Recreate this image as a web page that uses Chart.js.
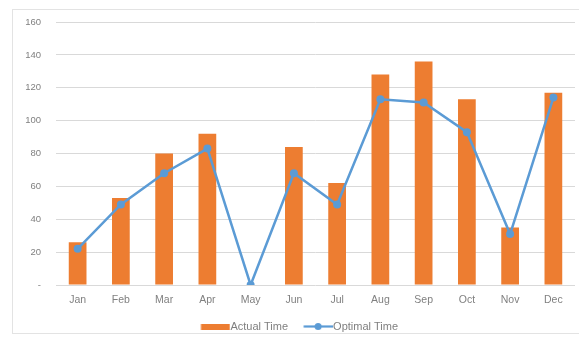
<!DOCTYPE html>
<html>
<head>
<meta charset="utf-8">
<script src="https://cdn.jsdelivr.net/npm/chart.js@4"></script>
<style>
  html, body { margin: 0; padding: 0; background: #fff; }
  #wrap { position: relative; width: 579px; height: 342px; }
  #frame { position: absolute; left: 12px; top: 9px; width: 580px; height: 325px; border: 1px solid #e3e3e3; box-sizing: border-box; }
  #myChart { position: absolute; left: 0; top: 0; }
</style>
</head>
<body>
<div id="wrap">
  <div id="frame"></div>
  <canvas id="myChart" width="579" height="342"></canvas>
</div>
<script>
// monthly values
const months = ['Jan', 'Feb', 'Mar', 'Apr', 'May', 'Jun', 'Jul', 'Aug', 'Sep', 'Oct', 'Nov', 'Dec']
const actualTime = [26, 53, 80, 92, 0, 84, 62, 128, 136, 113, 35, 117]
const optimalTime = [22, 49, 68, 83, 0, 68, 49, 113, 111, 93, 31, 114]
const yTicks = [0, 20, 40, 60, 80, 100, 120, 140, 160]

const orange = '#ED7D31'
const blue = '#5B9BD5'
const textGray = '#808080'

// legend icons, Excel style: the canvas is wider than the legend box and the
// drawing sits in its right part, so the icon butts up against the label text
const ICON_W = 35
function barIcon(){
    const c = document.createElement('canvas')
    c.width = ICON_W; c.height = 6
    const g = c.getContext('2d')
    g.fillStyle = orange
    g.fillRect(5.5, 0, 29, 6)
    return c
}
function lineIcon(){
    const c = document.createElement('canvas')
    c.width = ICON_W; c.height = 9
    const g = c.getContext('2d')
    g.strokeStyle = blue
    g.lineWidth = 2.2
    g.beginPath(); g.moveTo(5.5, 4.5); g.lineTo(35, 4.5); g.stroke()
    g.fillStyle = blue
    g.beginPath(); g.arc(20, 4.5, 3.5, 0, Math.PI * 2); g.fill()
    return c
}

const ctx = document.getElementById('myChart')
const myChart = new Chart(ctx, {
    data: {
        labels: months,
        datasets: [{
            type: 'line',
            label: 'Optimal Time',
            data: optimalTime,
            borderColor: blue,
            backgroundColor: blue,
            borderWidth: 2.5,
            pointRadius: 4,
            pointBackgroundColor: blue,
            pointBorderWidth: 0,
            tension: 0,
            order: 0
        },
        {
            type: 'bar',
            label: 'Actual Time',
            data: actualTime,
            backgroundColor: orange,
            barPercentage: 0.41,
            categoryPercentage: 1,
            order: 1
        }]
    },
    options: {
        responsive: false,
        animation: false,
        // left padding pushes the centred legend right; the y axis width makes up the rest
        layout: { padding: { top: 22, right: 4, left: 24, bottom: 0 } },
        scales: {
            x: {
                afterFit: s => { s.height = 26 },
                grid: { display: false, drawTicks: false },
                border: { display: false },
                ticks: { color: textGray, font: { family: 'Liberation Sans', size: 10.5 }, padding: 9 }
            },
            y: {
                min: 0,
                max: 160,
                afterFit: s => { s.width = 32 },
                afterBuildTicks: s => { s.ticks = yTicks.map(v => ({ value: v })) },
                grid: { color: '#d9d9d9', drawTicks: false },
                border: { display: false },
                ticks: {
                    color: textGray,
                    font: { family: 'Liberation Sans', size: 9.5 },
                    padding: 15,
                    callback: v => v === 0 ? '-' : v
                }
            }
        },
        plugins: {
            tooltip: { enabled: false },
            legend: {
                position: 'bottom',
                reverse: true,
                labels: {
                    color: textGray,
                    font: { family: 'Liberation Sans', size: 11 },
                    usePointStyle: true,
                    pointStyleWidth: 24,
                    padding: 10,
                    generateLabels: chart => chart.data.datasets.map((ds, i) => ({
                        // en space after the first label widens the gap between the two items
                        text: ds.type === 'bar' ? ds.label + '\u2002' : ds.label,
                        pointStyle: ds.type === 'bar' ? barIcon() : lineIcon(),
                        fontColor: textGray,
                        datasetIndex: i,
                        hidden: false,
                        lineWidth: 0
                    }))
                }
            }
        }
    }
})
</script>
</body>
</html>
